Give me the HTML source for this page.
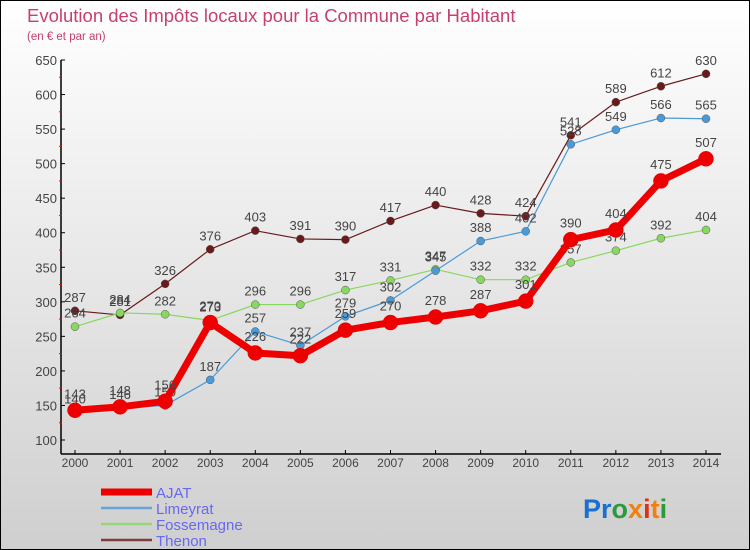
<!DOCTYPE html>
<html><head><meta charset="utf-8"><style>
html,body{margin:0;padding:0}
#wrap{width:748px;height:548px;border:1px solid #000;background:linear-gradient(#ffffff,#cfcfcf);position:relative;overflow:hidden;font-family:"Liberation Sans",sans-serif}
</style></head><body>
<div id="wrap">
<svg id="chart" width="748" height="548">
<text x="26" y="21" font-size="18.5" fill="#c8406a">Evolution des Impôts locaux pour la Commune par Habitant</text>
<text x="26" y="39" font-size="11.5" fill="#c8406a">(en € et par an)</text>
<g id="axes"></g><g id="series"></g><g id="legend"></g>
<text x="582" y="517" font-size="27" font-weight="bold"><tspan fill="#1a6fd0">Pr</tspan><tspan fill="#2a9a3a">o</tspan><tspan fill="#f08010">x</tspan><tspan fill="#e03010">i</tspan><tspan fill="#f08010">t</tspan><tspan fill="#2a9a3a">i</tspan></text>
</svg>
</div>
<script>
const years=[2000,2001,2002,2003,2004,2005,2006,2007,2008,2009,2010,2011,2012,2013,2014];
const ajat=[143,148,156,270,226,222,259,270,278,287,301,390,404,475,507];
const limeyrat=[140,146,150,187,257,237,279,302,345,388,402,528,549,566,565];
const fossemagne=[264,284,282,273,296,296,317,331,347,332,332,357,374,392,404];
const thenon=[287,281,326,376,403,391,390,417,440,428,424,541,589,612,630];
const yTicks=[100,150,200,250,300,350,400,450,500,550,600,650];
const NS="http://www.w3.org/2000/svg";
function x(i){return 74+i*(631/(years.length-1));}
function y(v){return 439-(v-100)*(380/550);}
function mk(tag,attrs,parent,txt){const e=document.createElementNS(NS,tag);for(const k in attrs)e.setAttribute(k,attrs[k]);if(txt!==undefined)e.textContent=txt;parent.appendChild(e);return e;}
const ax=document.getElementById('axes');
let l=mk('line',{x1:60,y1:y(650),x2:60,y2:453,stroke:'#000','stroke-width':1.5},ax);


l=mk('line',{x1:60,y1:453,x2:720,y2:453,stroke:'#000','stroke-width':1.5},ax);


yTicks.forEach(v=>{
  mk('line',{x1:60,y1:y(v),x2:64,y2:y(v),stroke:'#000'},ax);
  if(v<650) mk('line',{x1:58,y1:y(v+25),x2:61,y2:y(v+25),stroke:'#f00'},ax);
  const t=mk('text',{x:56,y:y(v)+5,'font-size':13,fill:'#444','text-anchor':'end'},ax,v);
  
  
});
years.forEach((yr,i)=>{
  mk('line',{x1:x(i),y1:453,x2:x(i),y2:449,stroke:'#000'},ax);
  const t=mk('text',{x:x(i),y:466,'font-size':12,fill:'#444','text-anchor':'middle'},ax,yr);
  
  
});
const series=[
 {name:'thenon',label:'Thenon',data:thenon,color:'#6a1a1a',w:1.2,r:4},
 {name:'fossemagne',label:'Fossemagne',data:fossemagne,color:'#88d860',w:1.2,r:4},
 {name:'limeyrat',label:'Limeyrat',data:limeyrat,color:'#4a9ad8',w:1.2,r:4},
 {name:'ajat',label:'AJAT',data:ajat,color:'#ee0000',w:7,r:7.5}
];
const sg=document.getElementById('series');
series.forEach(s=>{
  const g=mk('g',{},sg);
  
  
  const p=mk('polyline',{points:s.data.map((v,i)=>x(i)+','+y(v)).join(' '),fill:'none',stroke:s.color,'stroke-width':s.w,'stroke-linejoin':'round'},g);
  
  
  s.data.forEach((v,i)=>{
    const c=mk('circle',{cx:x(i),cy:y(v),r:s.r,fill:s.color,stroke:s.name==='ajat'?'#d00':'#555','stroke-width':0.5},g);
    
    
    const t=mk('text',{x:x(i),y:y(v)-(s.name==='ajat'?12:9),'font-size':13,fill:'#444','text-anchor':'middle'},g,v);
    
    
  });
});
const lg=document.getElementById('legend');
[series[3],series[2],series[1],series[0]].forEach((s,k)=>{
  const yy=491+k*16;
  const g=mk('g',{},lg);
  
  
  mk('line',{x1:100,y1:yy,x2:151,y2:yy,stroke:s.color,'stroke-width':s.name==='ajat'?7:2.5,opacity:s.name==='ajat'?1:0.8},g);
  mk('text',{x:155,y:yy+6,'font-size':15,fill:'#6868f0'},g,s.label);
});
</script>
</body></html>
